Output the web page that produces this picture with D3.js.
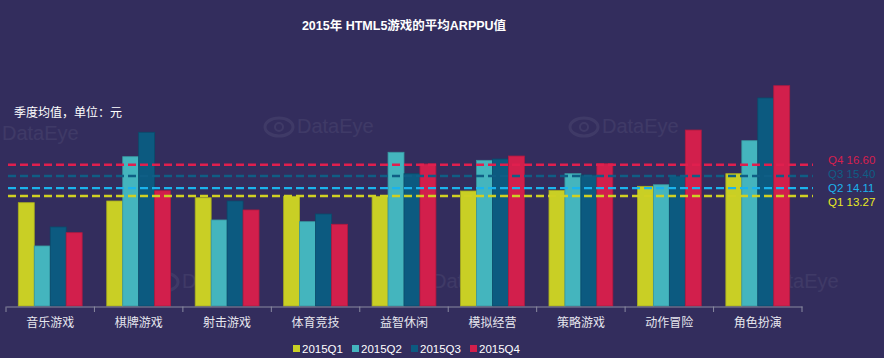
<!DOCTYPE html>
<html><head><meta charset="utf-8">
<script src="https://cdn.jsdelivr.net/npm/d3@7"></script>
<style>
html,body{margin:0;padding:0;background:#332d5d;}
svg{display:block;}
text{font-family:"Liberation Sans",Arial,"Noto Sans CJK SC",sans-serif;}
</style></head>
<body>
<svg id="chart" width="884" height="358"></svg>
<script>
const categories = ["音乐游戏","棋牌游戏","射击游戏","体育竞技","益智休闲","模拟经营","策略游戏","动作冒险","角色扮演"];
const seriesNames = ["2015Q1","2015Q2","2015Q3","2015Q4"];
const q1 = [12.55,12.73,13.08,13.23,13.23,13.80,13.87,14.30,15.65];
const q2 = [7.92,17.47,10.70,10.52,17.94,17.08,15.65,14.47,19.18];
const q3 = [9.95,20.08,12.73,11.34,15.65,17.22,15.51,15.40,23.75];
const q4 = [9.34,13.83,11.77,10.24,16.69,17.54,16.72,20.32,25.06];
const avgLabels = ["Q1","Q2","Q3","Q4"];
const avgValues = [13.27,14.11,15.40,16.60];
const barColors = ["#c9cf25","#44b5be","#0c5a80","#d21f4c"];
const lineColors = ["#cfd023","#1bb3ec","#0f5e85","#e01f4e"];
const labelColors = ["#e9e922","#1bb3ec","#0f5e85","#d81f4e"];

const series = [q1,q2,q3,q4];
const svg = d3.select("#chart");

// watermarks
const wm = [[-30,140],[265,133],[570,133],[150,288],[400,288],[730,288]];
wm.forEach(([x,y])=>{
  const g = svg.append("g").attr("opacity",0.06);
  g.append("ellipse").attr("cx",x+14).attr("cy",y-6).attr("rx",14).attr("ry",9).attr("fill","none").attr("stroke","#fff").attr("stroke-width",3);
  g.append("circle").attr("cx",x+14).attr("cy",y-6).attr("r",4).attr("fill","none").attr("stroke","#fff").attr("stroke-width",2);
  g.append("text").attr("x",x+32).attr("y",y).attr("fill","#fff").attr("font-size",20).text("DataEye");
});

const x0 = d3.scaleBand().domain(categories).range([6,802]).paddingInner(0).paddingOuter(0);
const x1 = d3.scaleBand().domain(seriesNames).range([12.3, x0.bandwidth()-12.3]).padding(0);
const y = d3.scaleLinear().domain([1.5,25.5]).range([306,306-24*9.35]);

// bars
const g = svg.append("g");
categories.forEach((c,ci)=>{
  seriesNames.forEach((s,si)=>{
    const v = series[si][ci];
    g.append("rect")
      .attr("x", x0(c)+x1(s))
      .attr("y", y(v))
      .attr("width", x1.bandwidth())
      .attr("height", y.range()[0]-y(v))
      .attr("fill", barColors[si])
      .attr("stroke", d3.color(barColors[si]).darker(0.5))
      .attr("stroke-width", 0.8);
  });
});

// axis
const ax = svg.append("g").attr("transform","translate(0,306.5)")
  .call(d3.axisBottom(x0).tickSize(0).tickPadding(12));
ax.select(".domain").attr("stroke","#8a8aa0").attr("stroke-width",1.2);
ax.selectAll(".tick text").attr("fill","#e6e6ee").attr("font-size",12).attr("font-family","'Noto Sans CJK SC',sans-serif");
const bounds = categories.map(c=>x0(c)).concat([x0.range()[1]]);
svg.append("g").selectAll("line").data(bounds).join("line")
  .attr("x1",d=>d).attr("x2",d=>d).attr("y1",306.5).attr("y2",312)
  .attr("stroke","#8a8aa0").attr("stroke-width",1);

// average lines
avgValues.forEach((v,i)=>{
  svg.append("line").attr("x1",8).attr("x2",813).attr("y1",y(v)).attr("y2",y(v))
    .attr("stroke",lineColors[i]).attr("stroke-width",2.4).attr("stroke-dasharray","8,4");
});
// labels spread
const ly = avgValues.map(v=>y(v));
const mean = d3.mean(ly);
const order = d3.range(avgValues.length).sort((a,b)=>ly[a]-ly[b]);
order.forEach((idx,k)=>{
  const yy = mean + (k-(order.length-1)/2)*14;
  svg.append("text").attr("x",828).attr("y",yy).attr("dy","0.35em")
    .attr("fill",labelColors[idx]).attr("font-size",11.5)
    .text(avgLabels[idx]+" "+avgValues[idx].toFixed(2));
});

// title
svg.append("text").attr("x",404).attr("y",26).attr("dy","0.35em").attr("text-anchor","middle")
  .attr("fill","#ffffff").attr("font-size",12.5).attr("font-weight","bold")
  .attr("font-family","'Noto Sans CJK SC',sans-serif")
  .text("2015年 HTML5游戏的平均ARPPU值");
svg.append("text").attr("x",14).attr("y",113).attr("dy","0.35em")
  .attr("fill","#ffffff").attr("font-size",12).attr("font-family","'Noto Sans CJK SC',sans-serif")
  .text("季度均值，单位：元");

// legend
const lg = svg.append("g");
seriesNames.forEach((s,i)=>{
  const lx = 293 + i*59;
  lg.append("rect").attr("x",lx).attr("y",345).attr("width",7).attr("height",7).attr("fill",barColors[i]);
  lg.append("text").attr("x",lx+9).attr("y",348.5).attr("dy","0.35em")
    .attr("fill","#ffffff").attr("font-size",11.5).text(s);
});
</script>
</body></html>
